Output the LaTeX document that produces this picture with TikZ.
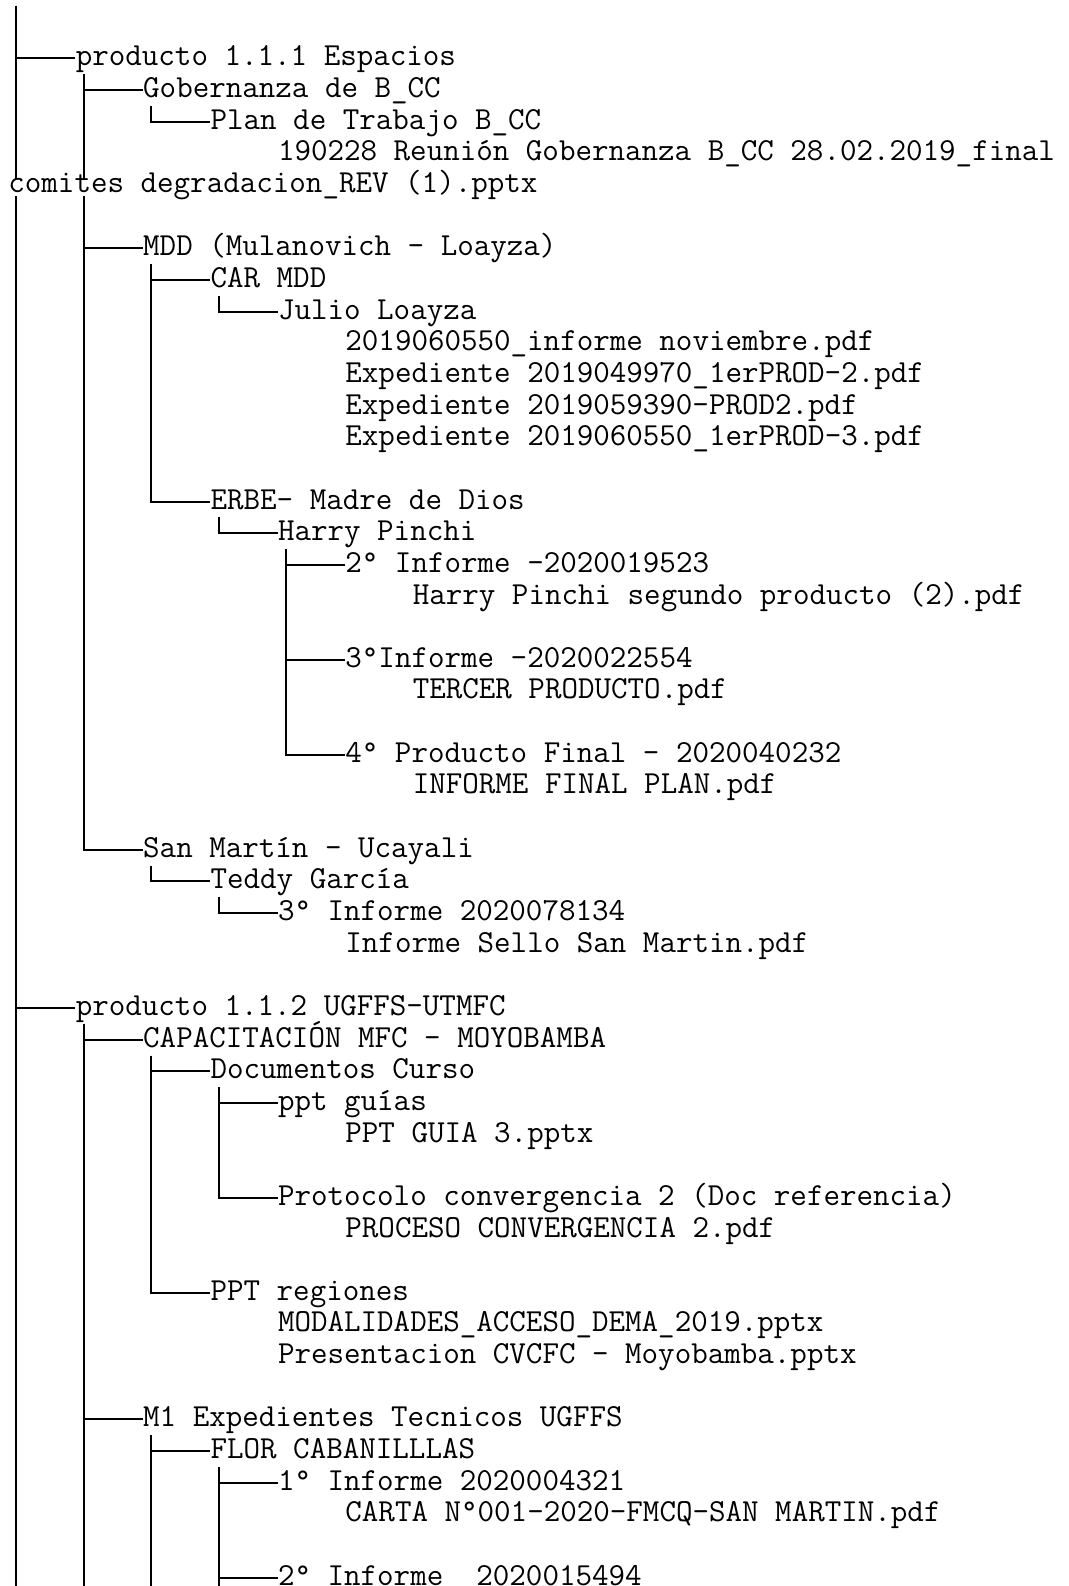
\documentclass[tikz,border=0pt]{standalone}
\usepackage{fontspec}
\usepackage{tikz}
\newcommand{\halfcw}{4.2125pt}

\tikzset{
  entry/.style={anchor=base west, inner sep=0pt, text height=11.5pt, text depth=4pt,
    font=\ttfamily\fontsize{16.05pt}{16pt}\selectfont},
  branch/.style={line width=1pt},
}

\begin{document}
\begin{tikzpicture}[x={(8.425pt,0pt)}, y={(0pt,-15.825pt)}]
  \useasboundingbox (-0.475,-2.085) rectangle (62.908,48.026);
  \coordinate (root) at (0.5,-1.9);
  \coordinate (bottom) at (0,48.026);

  % producto 1.1.1
  \node[entry] (prod1) at (4,0) {producto 1.1.1 Espacios};
  \node[entry] (gob) at (8,1) {Gobernanza de B\_CC};
  \node[entry] (plan) at (12,2) {Plan de Trabajo B\_CC};
  \node[entry] (reunion) at (16,3) {190228 Reunión Gobernanza B\_CC 28.02.2019\_final};
  \node[entry] (mdd) at (8,6) {MDD (Mulanovich - Loayza)};
  \node[entry] (carmdd) at (12,7) {CAR MDD};
  \node[entry] (julio) at (16,8) {Julio Loayza};
  \node[entry] (julio1) at (20,9) {2019060550\_informe noviembre.pdf};
  \node[entry] (julio2) at (20,10) {Expediente 2019049970\_1erPROD-2.pdf};
  \node[entry] (julio3) at (20,11) {Expediente 2019059390-PROD2.pdf};
  \node[entry] (julio4) at (20,12) {Expediente 2019060550\_1erPROD-3.pdf};
  \node[entry] (erbe) at (12,14) {ERBE- Madre de Dios};
  \node[entry] (harry) at (16,15) {Harry Pinchi};
  \node[entry] (harry2) at (20,16) {2° Informe -2020019523};
  \node[entry] (harry2f) at (24,17) {Harry Pinchi segundo producto (2).pdf};
  \node[entry] (harry3) at (20,19) {3°Informe -2020022554};
  \node[entry] (harry3f) at (24,20) {TERCER PRODUCTO.pdf};
  \node[entry] (harry4) at (20,22) {4° Producto Final - 2020040232};
  \node[entry] (harry4f) at (24,23) {INFORME FINAL PLAN.pdf};
  \node[entry] (sanmartin) at (8,25) {San Martín - Ucayali};
  \node[entry] (teddy) at (12,26) {Teddy García};
  \node[entry] (teddy3) at (16,27) {3° Informe 2020078134};
  \node[entry] (teddy3f) at (20,28) {Informe Sello San Martin.pdf};

  % producto 1.1.2
  \node[entry] (prod2) at (4,30) {producto 1.1.2 UGFFS-UTMFC};
  \node[entry] (capac) at (8,31) {CAPACITACIÓN MFC - MOYOBAMBA};
  \node[entry] (docs) at (12,32) {Documentos Curso};
  \node[entry] (pptguias) at (16,33) {ppt guías};
  \node[entry] (pptguiasf) at (20,34) {PPT GUIA 3.pptx};
  \node[entry] (proto) at (16,36) {Protocolo convergencia 2 (Doc referencia)};
  \node[entry] (protof) at (20,37) {PROCESO CONVERGENCIA 2.pdf};
  \node[entry] (pptreg) at (12,39) {PPT regiones};
  \node[entry] (pptreg1) at (16,40) {MODALIDADES\_ACCESO\_DEMA\_2019.pptx};
  \node[entry] (pptreg2) at (16,41) {Presentacion CVCFC - Moyobamba.pptx};
  \node[entry] (m1) at (8,43) {M1 Expedientes Tecnicos UGFFS};
  \node[entry] (flor) at (12,44) {FLOR CABANILLLAS};
  \node[entry] (flor1) at (16,45) {1° Informe 2020004321};
  \node[entry] (flor1f) at (20,46) {CARTA N°001-2020-FMCQ-SAN MARTIN.pdf};
  \node[entry] (flor2) at (16,48) {2° Informe\ \ 2020015494};

  % tree rails
  \draw[branch] (root) |- (prod1.west);
  \draw[branch] (root) |- (prod2.west);
  \draw[branch] (root) -- (root |- bottom);
  \draw[branch] ([xshift=\halfcw]prod1.south west) |- (gob.west);
  \draw[branch] ([xshift=\halfcw]prod1.south west) |- (mdd.west);
  \draw[branch] ([xshift=\halfcw]prod1.south west) |- (sanmartin.west);
  \draw[branch] ([xshift=\halfcw]gob.south west) |- (plan.west);
  \draw[branch] ([xshift=\halfcw]mdd.south west) |- (carmdd.west);
  \draw[branch] ([xshift=\halfcw]mdd.south west) |- (erbe.west);
  \draw[branch] ([xshift=\halfcw]carmdd.south west) |- (julio.west);
  \draw[branch] ([xshift=\halfcw]erbe.south west) |- (harry.west);
  \draw[branch] ([xshift=\halfcw]harry.south west) |- (harry2.west);
  \draw[branch] ([xshift=\halfcw]harry.south west) |- (harry3.west);
  \draw[branch] ([xshift=\halfcw]harry.south west) |- (harry4.west);
  \draw[branch] ([xshift=\halfcw]sanmartin.south west) |- (teddy.west);
  \draw[branch] ([xshift=\halfcw]teddy.south west) |- (teddy3.west);
  \draw[branch] ([xshift=\halfcw]prod2.south west) |- (capac.west);
  \draw[branch] ([xshift=\halfcw]prod2.south west) |- (m1.west);
  \draw[branch] ([xshift=\halfcw]prod2.south west) -- ([xshift=\halfcw]prod2.south west |- bottom);
  \draw[branch] ([xshift=\halfcw]capac.south west) |- (docs.west);
  \draw[branch] ([xshift=\halfcw]capac.south west) |- (pptreg.west);
  \draw[branch] ([xshift=\halfcw]docs.south west) |- (pptguias.west);
  \draw[branch] ([xshift=\halfcw]docs.south west) |- (proto.west);
  \draw[branch] ([xshift=\halfcw]m1.south west) |- (flor.west);
  \draw[branch] ([xshift=\halfcw]m1.south west) -- ([xshift=\halfcw]m1.south west |- bottom);
  \draw[branch] ([xshift=\halfcw]flor.south west) |- (flor1.west);
  \draw[branch] ([xshift=\halfcw]flor.south west) |- (flor2.west);
  \draw[branch] ([xshift=\halfcw]flor.south west) -- ([xshift=\halfcw]flor.south west |- bottom);

  % wrapped line, over the rails
  \node[entry, fill=white, text height=7pt, text depth=1.5pt] (comites) at (0,4) {comites degradacion\_REV (1).pptx};
\end{tikzpicture}
\end{document}
